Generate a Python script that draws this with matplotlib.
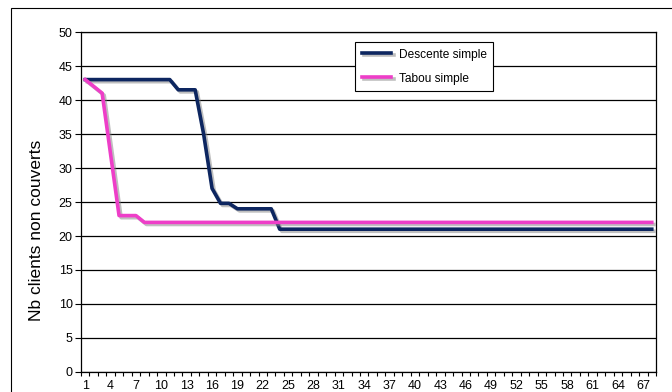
import matplotlib
matplotlib.use("Agg")
import matplotlib.pyplot as plt
import matplotlib.patheffects as pe
from matplotlib.patches import Rectangle

plt.rcParams['font.family'] = ['Liberation Sans', 'DejaVu Sans']

# itérations 1..68
iterations = list(range(1, 69))
descente = [43] * 11 + [41.5, 41.5, 41.5, 35, 27, 24.8, 24.8] + [24] * 5 + [21] * 45
tabou = [43, 42, 41, 32, 23, 23, 23] + [22] * 61
xtick_labels = [str(i) for i in range(1, 68, 3)]

fig = plt.figure(figsize=(6.72, 3.92), dpi=100)
ax = fig.add_axes([81 / 672, 1 - 372 / 392, (656 - 81) / 672, (372 - 32) / 392])

# cadre du graphique
fig.patches.append(Rectangle((11 / 672, -0.1), 1.0, 1 - 8 / 392 + 0.1,
                             transform=fig.transFigure, fill=False,
                             edgecolor='black', lw=0.8))

shadow = [pe.SimpleLineShadow(offset=(1.5, -1.5), shadow_color='gray', alpha=0.5),
          pe.Normal()]
ax.plot(iterations, descente, color='#0d2660', lw=2.6, label='Descente simple',
        path_effects=shadow, solid_joinstyle='round', zorder=3)
ax.plot(iterations, tabou, color='#ee3ec8', lw=2.6, label='Tabou simple',
        path_effects=shadow, solid_joinstyle='round', zorder=3)

ax.set_xlim(0.5, 68.5)
ax.set_ylim(0, 50)
ax.set_yticks(range(0, 51, 5))
ax.yaxis.grid(True, color='black', lw=0.9)
ax.set_axisbelow(True)

ax.set_xticks(range(1, 68, 3))
ax.set_xticklabels(xtick_labels)
ax.set_xticks([i + 0.5 for i in range(0, 69)], minor=True)
ax.tick_params(axis='x', which='major', length=0, pad=6, labelsize=9)
ax.tick_params(axis='x', which='minor', length=3, direction='out', width=0.8)
ax.tick_params(axis='y', length=4, width=0.8, pad=2, labelsize=9)

for s in ax.spines.values():
    s.set_color('black')
    s.set_linewidth(0.9)

ax.set_ylabel('Nb clients non couverts', fontsize=12.5)
ax.yaxis.set_label_coords(-0.064, 0.418)

leg = ax.legend(loc='upper left', bbox_to_anchor=((355 - 81) / 575, (372 - 42) / 340),
                borderaxespad=0, fontsize=8.6, frameon=True, fancybox=False,
                framealpha=1, edgecolor='black', handlelength=2.5,
                handletextpad=0.6, borderpad=0.55, labelspacing=1.0)
leg.get_frame().set_linewidth(0.8)

fig.savefig('out.png', dpi=100)
